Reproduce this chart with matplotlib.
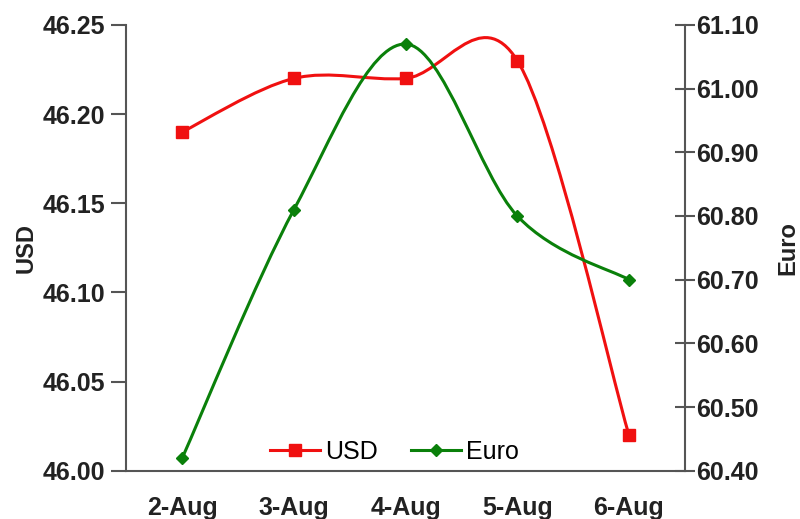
import numpy as np
import matplotlib.pyplot as plt
from matplotlib.path import Path
from matplotlib.patches import PathPatch

plt.rcParams['font.family'] = ['Liberation Sans', 'DejaVu Sans']

days = ["2-Aug", "3-Aug", "4-Aug", "5-Aug", "6-Aug"]
usd = [46.19, 46.22, 46.22, 46.23, 46.02]
euro = [60.42, 60.81, 61.07, 60.80, 60.70]


def smooth_path(x, y):
    # cubic bezier through the points, tangent = (next - prev) / 6
    px = np.concatenate([[x[0]], x, [x[-1]]])
    py = np.concatenate([[y[0]], y, [y[-1]]])
    verts = [(x[0], y[0])]
    codes = [Path.MOVETO]
    for i in range(1, len(px) - 2):
        c1 = (px[i] + (px[i + 1] - px[i - 1]) / 6, py[i] + (py[i + 1] - py[i - 1]) / 6)
        c2 = (px[i + 1] - (px[i + 2] - px[i]) / 6, py[i + 1] - (py[i + 2] - py[i]) / 6)
        verts += [c1, c2, (px[i + 1], py[i + 1])]
        codes += [Path.CURVE4] * 3
    return Path(verts, codes)


x = np.arange(len(days), dtype=float)
red = '#f01010'
green = '#0a800a'
axis_col = '#555555'
text_col = '#222222'
fs = 18

fig, ax = plt.subplots(figsize=(8, 5.19), dpi=100)
fig.subplots_adjust(left=0.158, right=0.856, top=0.952, bottom=0.093)
ax2 = ax.twinx()

ax.add_patch(PathPatch(smooth_path(x, np.array(usd)), fill=False, edgecolor=red, lw=2.2, zorder=3))
ax.plot(x, usd, ls='none', marker='s', ms=8.5, color=red, zorder=4)
ax2.add_patch(PathPatch(smooth_path(x, np.array(euro)), fill=False, edgecolor=green, lw=2.2, zorder=3))
ax2.plot(x, euro, ls='none', marker='D', ms=6, color=green, zorder=4)

ax.set_xlim(-0.5, 4.5)
ax.set_ylim(46.0, 46.25)
ax2.set_ylim(60.4, 61.1)
ax.set_yticks(np.arange(46.0, 46.2501, 0.05))
ax2.set_yticks(np.arange(60.4, 61.1001, 0.1))
ax.yaxis.set_major_formatter(plt.FormatStrFormatter('%.2f'))
ax2.yaxis.set_major_formatter(plt.FormatStrFormatter('%.2f'))
ax.set_xticks(x)
ax.set_xticklabels(days)

for a in (ax, ax2):
    a.spines['top'].set_visible(False)
    for s in ('left', 'right', 'bottom'):
        a.spines[s].set_color(axis_col)
        a.spines[s].set_linewidth(1.5)
ax.spines['right'].set_visible(False)
ax2.spines['left'].set_visible(False)
ax2.spines['bottom'].set_visible(False)

ax.tick_params(axis='y', direction='out', length=11, width=1.5, color=axis_col,
               labelsize=fs, labelcolor=text_col, pad=4)
ax2.tick_params(axis='y', direction='inout', length=14, width=1.5, color=axis_col,
                labelsize=fs, labelcolor=text_col, pad=1)
ax.tick_params(axis='x', length=0, labelsize=fs, labelcolor=text_col, pad=18)
for lbl in ax.get_xticklabels() + ax.get_yticklabels() + ax2.get_yticklabels():
    lbl.set_fontweight('bold')

ax.set_ylabel("USD", fontsize=17, fontweight='bold', color=text_col, labelpad=4)
ax2.set_ylabel("Euro", fontsize=17, fontweight='bold', color=text_col, labelpad=13)

h1, = ax.plot([], [], color=red, lw=2.2, marker='s', ms=8.5)
h2, = ax.plot([], [], color=green, lw=2.2, marker='D', ms=6)
ax.legend([h1, h2], ["USD", "Euro"], loc='lower center', bbox_to_anchor=(0.48, -0.035),
          ncol=2, frameon=False, fontsize=fs, handlelength=2.0, handletextpad=0.2,
          columnspacing=1.3)

plt.savefig('out.png', dpi=100)
